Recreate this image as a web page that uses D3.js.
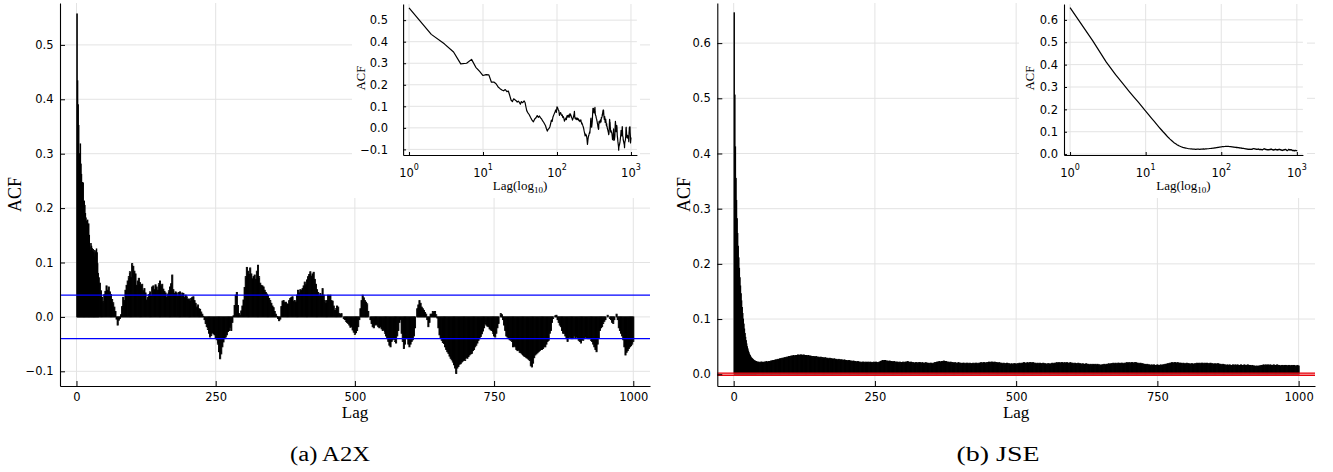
<!DOCTYPE html>
<html><head><meta charset="utf-8">
<script src="https://cdn.jsdelivr.net/npm/d3@7"></script>
<style>body{margin:0;background:#fff}svg{display:block}</style>
</head><body>
<svg id="c" width="1333" height="472"></svg>
<script>
// ---------------- DATA ----------------
const lagsA2X = d3.range(1, 41).concat(d3.range(42, 1001, 2));
const acfA2X = [
.557,.434,.390,.352,.297,.300,.318,.281,.262,.243,
.247,.246,.212,.213,.205,.190,.182,.176,.172,.178,
.168,.171,.150,.128,.122,.135,.130,.126,.120,.124,
.118,.110,.122,.117,.120,.125,.118,.098,.080,.072,
.062,.048,.036,.028,.041,.047,.057,.049,.055,.046,.041,.032,.026,.018,.010,-.004,-.015,-.006,-.003,.004,.019,.036,.030,.049,.058,
.066,.074,.083,.072,.098,.093,.084,.079,.058,.066,.071,.063,.057,.060,.048,.052,.044,.031,.036,.041,.046,.038,.055,.057,.050,
.059,.055,.049,.061,.066,.057,.060,.051,.047,.044,.036,.042,.048,.055,.061,.077,.050,.043,.046,.044,.038,.045,.046,.039,.044,
.043,.036,.040,.037,.032,.033,.029,.034,.036,.037,.030,.025,.018,.022,.015,.014,.009,.005,.001,-.005,-.012,-.018,-.023,-.030,-.037,
-.034,-.029,-.031,-.033,-.038,-.042,-.050,-.064,-.077,-.068,-.055,-.046,-.040,-.037,-.033,-.027,-.025,-.019,-.025,-.010,.002,.021,.040,.045,.021,
.006,.003,.011,.020,.031,.054,.074,.091,.084,.078,.090,.079,.070,.074,.077,.069,.084,.095,.074,.062,.058,.057,.055,.049,.045,
.042,.039,.034,.030,.025,.020,.017,.010,.005,.001,-.003,-.007,-.004,.019,.029,.030,.026,.027,.024,.023,.030,.034,.036,.037,.029,
.030,.027,.040,.049,.044,.050,.049,.052,.057,.064,.059,.068,.074,.078,.083,.075,.079,.082,.069,.060,.050,.045,.039,.043,.040,
.052,.040,.030,.025,.030,.040,.039,.040,.030,.029,.020,.012,.015,.020,.018,.006,.005,.006,.000,-.003,-.005,-.008,-.010,-.012,-.015,
-.019,-.018,-.024,-.028,-.032,-.029,-.025,-.018,-.005,.015,.030,.040,.035,.030,.027,.024,.010,.000,-.005,-.012,-.018,-.020,-.015,-.013,-.015,
-.018,-.020,-.018,-.022,-.025,-.024,-.030,-.035,-.040,-.045,-.052,-.055,-.045,-.042,-.040,-.045,-.048,-.035,-.025,-.010,-.005,-.030,-.045,-.058,-.050,
-.038,-.040,-.050,-.055,-.050,-.045,-.042,-.035,-.020,.000,.015,.022,.030,.025,.018,.015,.012,.008,.005,-.005,-.018,-.010,.005,.005,.010,
.008,.010,.004,-.002,-.020,-.033,-.038,-.043,-.047,-.049,-.055,-.060,-.064,-.067,-.072,-.076,-.079,-.083,-.088,-.094,-.104,-.094,-.091,-.087,-.086,
-.083,-.081,-.079,-.080,-.075,-.076,-.073,-.070,-.068,-.067,-.062,-.060,-.055,-.052,-.048,-.043,-.040,-.036,-.031,-.026,-.020,-.012,-.015,-.017,-.018,
-.022,-.024,-.025,-.030,-.035,-.037,-.030,-.020,-.012,.000,.006,.004,-.005,-.015,-.025,-.035,-.037,-.040,-.042,-.043,-.045,-.055,-.053,-.055,-.060,
-.062,-.061,-.065,-.066,-.068,-.070,-.072,-.073,-.075,-.076,-.078,-.080,-.090,-.092,-.085,-.075,-.070,-.068,-.066,-.064,-.062,-.060,-.060,-.058,-.055,
-.055,-.050,-.045,-.043,-.030,-.025,-.010,-.003,.000,.002,.003,-.005,-.010,-.015,-.018,-.025,-.030,-.030,-.035,-.040,-.045,-.038,-.037,-.040,-.040,
-.040,-.035,-.040,-.037,-.040,-.043,-.045,-.048,-.042,-.043,-.040,-.037,-.038,-.040,-.040,-.040,-.043,-.045,-.050,-.055,-.060,-.064,-.050,-.040,-.025,
-.020,-.018,-.012,-.008,-.005,.000,.003,.000,-.003,-.005,-.010,-.012,-.005,.000,.005,-.005,-.020,-.025,-.030,-.035,-.042,-.055,-.070,-.065,-.062,
-.058,-.055,-.053,-.050,-.045
];
const lagsJSE = d3.range(1, 41).concat(d3.range(42, 1001, 2));
const acfJSE = [
.655,.506,.412,.355,.315,.282,.255,.232,.211,.192,
.175,.160,.146,.133,.121,.110,.100,.091,.082,.074,
.067,.061,.055,.050,.046,.042,.039,.036,.034,.032,
.030,.029,.028,.027,.026,.025,.024,.024,.023,.023,
.022,.022,.021,.022,.022,.021,.022,.022,.023,.022,.023,.023,.024,.024,.025,.025,.026,.026,.027,.027,.028,.028,.029,.029,.030,
.030,.031,.031,.032,.032,.033,.033,.034,.033,.034,.034,.035,.034,.035,.035,.034,.035,.034,.034,.033,.034,.033,.033,.032,.032,
.032,.031,.032,.031,.031,.030,.031,.030,.030,.029,.030,.029,.029,.028,.029,.028,.028,.027,.028,.027,.027,.026,.027,.026,.026,
.026,.025,.026,.025,.025,.024,.025,.024,.024,.023,.024,.023,.023,.022,.023,.022,.022,.021,.022,.022,.021,.022,.021,.022,.021,
.022,.021,.021,.022,.021,.022,.021,.021,.022,.023,.024,.025,.024,.025,.024,.024,.023,.024,.023,.023,.022,.023,.022,.022,.022,
.021,.022,.021,.021,.022,.021,.022,.022,.023,.022,.021,.022,.021,.021,.020,.021,.021,.020,.021,.021,.020,.021,.020,.020,.021,
.020,.020,.019,.020,.020,.019,.020,.021,.021,.022,.022,.023,.022,.023,.023,.024,.023,.023,.022,.022,.021,.022,.021,.021,.020,
.021,.020,.020,.021,.020,.020,.019,.020,.020,.019,.020,.020,.019,.020,.019,.019,.020,.019,.020,.020,.019,.020,.020,.021,.020,
.021,.021,.020,.021,.021,.022,.021,.022,.022,.021,.022,.021,.021,.020,.021,.020,.020,.019,.020,.019,.019,.020,.019,.019,.018,
.019,.018,.019,.019,.018,.019,.019,.020,.019,.020,.020,.021,.020,.020,.021,.020,.021,.021,.020,.021,.020,.020,.019,.020,.019,
.020,.019,.019,.020,.019,.019,.018,.019,.019,.018,.019,.020,.019,.020,.020,.021,.020,.021,.020,.021,.021,.020,.021,.020,.021,
.020,.020,.021,.020,.020,.019,.020,.019,.019,.020,.019,.019,.018,.019,.018,.018,.019,.018,.018,.017,.018,.017,.018,.017,.018,
.017,.018,.017,.017,.016,.017,.017,.018,.017,.018,.018,.019,.018,.019,.019,.020,.019,.020,.019,.020,.020,.019,.020,.020,.019,
.020,.020,.021,.020,.021,.020,.021,.021,.020,.021,.021,.020,.020,.019,.020,.019,.019,.018,.018,.017,.018,.017,.017,.016,.017,
.016,.017,.016,.016,.017,.016,.016,.017,.016,.017,.017,.018,.018,.019,.019,.020,.020,.021,.020,.021,.021,.020,.021,.020,.020,
.020,.019,.020,.019,.019,.020,.019,.019,.018,.019,.019,.018,.019,.019,.020,.019,.020,.019,.020,.020,.019,.020,.019,.020,.019,
.019,.020,.019,.019,.018,.019,.018,.019,.019,.018,.018,.017,.018,.017,.017,.016,.017,.016,.017,.016,.016,.017,.016,.017,.016,
.017,.016,.016,.017,.016,.016,.017,.016,.016,.017,.016,.016,.015,.016,.015,.015,.014,.015,.014,.015,.015,.016,.016,.017,.016,
.017,.016,.017,.016,.017,.016,.016,.017,.016,.016,.017,.016,.016,.015,.016,.016,.015,.016,.016,.015,.016,.016,.015,.016,.015,
.016,.015,.015,.016,.015
];
const xTicksMain = [0, 250, 500, 750, 1000];
const yTicksA2X = [-0.1, 0.0, 0.1, 0.2, 0.3, 0.4, 0.5];
const yTicksJSE = [0.0, 0.1, 0.2, 0.3, 0.4, 0.5, 0.6];
const logTicks = [1, 10, 100, 1000];
const bandA2X = [-0.04, 0.04];
const bandJSE = [-0.002, 0.002];
const captions = ["(a) A2X", "(b) JSE"];
const axisLabels = {x: "Lag", y: "ACF", insetX: "Lag(log", insetXSub: "10", insetXEnd: ")"};

// ---------------- DRAW ----------------
const svg = d3.select("#c");
const SANS = "DejaVu Sans, sans-serif";
const SERIF = "Liberation Serif, DejaVu Serif, serif";
const GRID = "#e3e3e3";
const fmt1 = d3.format(".1f");

function styleAxis(ax, size) {
  ax.attr("font-family", SANS).attr("font-size", size);
  ax.select(".domain").attr("stroke", "#000").attr("stroke-width", 1.1);
  ax.selectAll(".tick line").attr("stroke", "#000").attr("stroke-width", 1);
  ax.selectAll(".tick text").attr("fill", "#000");
}

function mainPanel(o) {
  const g = svg.append("g");
  const x = d3.scaleLinear().domain(o.xDom).range(o.xRange);
  const y = d3.scaleLinear().domain(o.yDom).range(o.yRange);
  g.append("g").selectAll("line").data(xTicksMain).join("line")
    .attr("x1", d => x(d)).attr("x2", d => x(d))
    .attr("y1", o.yRange[0]).attr("y2", o.yRange[1]).attr("stroke", GRID);
  g.append("g").selectAll("line").data(o.yTicks).join("line")
    .attr("y1", d => y(d)).attr("y2", d => y(d))
    .attr("x1", o.xRange[0]).attr("x2", o.xRange[1]).attr("stroke", GRID);

  const n = Math.min(o.lags.length, o.vals.length);
  const bars = d3.range(n).map(i => {
    const L = o.lags[i];
    const l = i > 0 ? (o.lags[i - 1] + L) / 2 : L - 0.5;
    const r = i < n - 1 ? (L + o.lags[i + 1]) / 2 : L + (L - o.lags[i - 1]) / 2;
    return {L, v: o.vals[i], l, r};
  });
  g.append("g").selectAll("rect").data(bars).join("rect")
    .attr("x", d => x(d.l)).attr("width", d => x(d.r) - x(d.l))
    .attr("y", d => Math.min(y(d.v), y(0)))
    .attr("height", d => Math.abs(y(d.v) - y(0)))
    .attr("fill", "#000").attr("stroke", "#000").attr("stroke-width", 0.9);

  if (o.bandFill) {
    g.append("rect").attr("x", o.xRange[0]).attr("width", o.xRange[1] - o.xRange[0])
      .attr("y", y(o.band[1])).attr("height", y(o.band[0]) - y(o.band[1]))
      .attr("fill", o.bandFill);
  }
  g.append("g").selectAll("line").data(o.band).join("line")
    .attr("x1", o.xRange[0]).attr("x2", o.xRange[1])
    .attr("y1", d => y(d)).attr("y2", d => y(d))
    .attr("stroke", o.bandColor).attr("stroke-width", 1.1);

  const ay = g.append("g").attr("transform", `translate(${o.xRange[0]},0)`)
    .call(d3.axisLeft(y).tickValues(o.yTicks).tickFormat(fmt1).tickSize(-5).tickSizeOuter(0).tickPadding(6.5));
  styleAxis(ay, 11.5);
  const ax = g.append("g").attr("transform", `translate(0,${o.yRange[0]})`)
    .call(d3.axisBottom(x).tickValues(xTicksMain).tickFormat(d3.format("d")).tickSize(-5).tickSizeOuter(0).tickPadding(6.5));
  styleAxis(ax, 11.5);

  g.append("text").attr("transform", `translate(${o.yLabelX},194.5) rotate(-90)`)
    .attr("text-anchor", "middle").attr("dominant-baseline", "central")
    .attr("font-family", SERIF).attr("font-size", 18).text(axisLabels.y);
  g.append("text").attr("x", (o.xRange[0] + o.xRange[1]) / 2).attr("y", 418)
    .attr("text-anchor", "middle").attr("font-family", SERIF).attr("font-size", 17).text(axisLabels.x);
  g.append("text").attr("x", o.capX).attr("y", 461).attr("text-anchor", "middle")
    .attr("font-family", SERIF).attr("font-size", 20)
    .attr("textLength", o.capW).attr("lengthAdjust", "spacingAndGlyphs").text(o.caption);
}

function inset(o) {
  const g = svg.append("g");
  g.append("rect").attr("x", o.bg[0]).attr("y", o.bg[1]).attr("width", o.bg[2]).attr("height", o.bg[3]).attr("fill", "#fff");
  const x = d3.scaleLog().domain([Math.pow(10, -0.08), Math.pow(10, 3.08)]).range(o.xRange);
  const y = d3.scaleLinear().domain(o.yDom).range(o.yRange);
  g.append("g").selectAll("line").data(logTicks).join("line")
    .attr("x1", d => x(d)).attr("x2", d => x(d))
    .attr("y1", o.yRange[0]).attr("y2", o.yRange[1]).attr("stroke", GRID);
  g.append("g").selectAll("line").data(o.yTicks).join("line")
    .attr("y1", d => y(d)).attr("y2", d => y(d))
    .attr("x1", o.xRange[0]).attr("x2", o.xRange[1]).attr("stroke", GRID);
  const n = Math.min(o.lags.length, o.vals.length);
  const pts = d3.range(n).map(i => [o.lags[i], o.vals[i]]);
  g.append("path").datum(pts)
    .attr("d", d3.line().x(d => x(d[0])).y(d => y(d[1])))
    .attr("fill", "none").attr("stroke", "#000").attr("stroke-width", 1.2).attr("stroke-linejoin", "round");

  const ay = g.append("g").attr("transform", `translate(${o.xRange[0]},0)`)
    .call(d3.axisLeft(y).tickValues(o.yTicks).tickFormat(fmt1).tickSize(-3).tickSizeOuter(0).tickPadding(o.yPad));
  styleAxis(ay, 11.5);
  const ax = g.append("g").attr("transform", `translate(0,${o.yRange[0]})`)
    .call(d3.axisBottom(x).tickValues(logTicks).tickFormat("").tickSize(-3).tickSizeOuter(0));
  styleAxis(ax, 11.5);
  const lab = g.append("g").selectAll("text").data(logTicks).join("text")
    .attr("x", d => x(d)).attr("y", 177).attr("text-anchor", "middle")
    .attr("font-family", SANS).attr("font-size", 11.5);
  lab.append("tspan").text("10");
  lab.append("tspan").attr("font-size", 8).attr("dy", -7).text(d => String(Math.round(Math.log10(d))));

  g.append("text").attr("transform", `translate(${o.yLabelX},78) rotate(-90)`)
    .attr("text-anchor", "middle").attr("dominant-baseline", "central")
    .attr("font-family", SERIF).attr("font-size", 12.5).text(axisLabels.y);
  const xl = g.append("text").attr("x", (o.xRange[0] + o.xRange[1]) / 2).attr("y", 190)
    .attr("text-anchor", "middle").attr("font-family", SERIF).attr("font-size", 13);
  xl.append("tspan").text(axisLabels.insetX);
  xl.append("tspan").attr("font-size", 9).attr("dy", 3).text(axisLabels.insetXSub);
  xl.append("tspan").attr("dy", -3).text(axisLabels.insetXEnd);
}

mainPanel({lags: lagsA2X, vals: acfA2X, xDom: [-29.6, 1030], xRange: [60, 650],
  yDom: [-0.127, 0.577], yRange: [386, 3], yTicks: yTicksA2X,
  band: bandA2X, bandColor: "#0000ff", yLabelX: 15, caption: captions[0], capX: 330, capW: 80});
mainPanel({lags: lagsJSE, vals: acfJSE, xDom: [-29, 1029], xRange: [717.3, 1315],
  yDom: [-0.0213, 0.6727], yRange: [386, 3], yTicks: yTicksJSE,
  band: bandJSE, bandColor: "#e8000b", bandFill: "rgba(255,120,120,0.5)", yLabelX: 684, caption: captions[1], capX: 998, capW: 83});

inset({lags: lagsA2X, vals: acfA2X, xRange: [403.1, 636.9], yDom: [-0.126, 0.575], yRange: [155, 4],
  yTicks: yTicksA2X, bg: [352, 0, 288, 198], yPad: 15, yLabelX: 361});
inset({lags: lagsJSE, vals: acfJSE, xRange: [1064, 1302.9], yDom: [-0.004, 0.671], yRange: [155, 4],
  yTicks: yTicksJSE, bg: [1019, 0, 288, 198], yPad: 6, yLabelX: 1030});
</script>
</body></html>
